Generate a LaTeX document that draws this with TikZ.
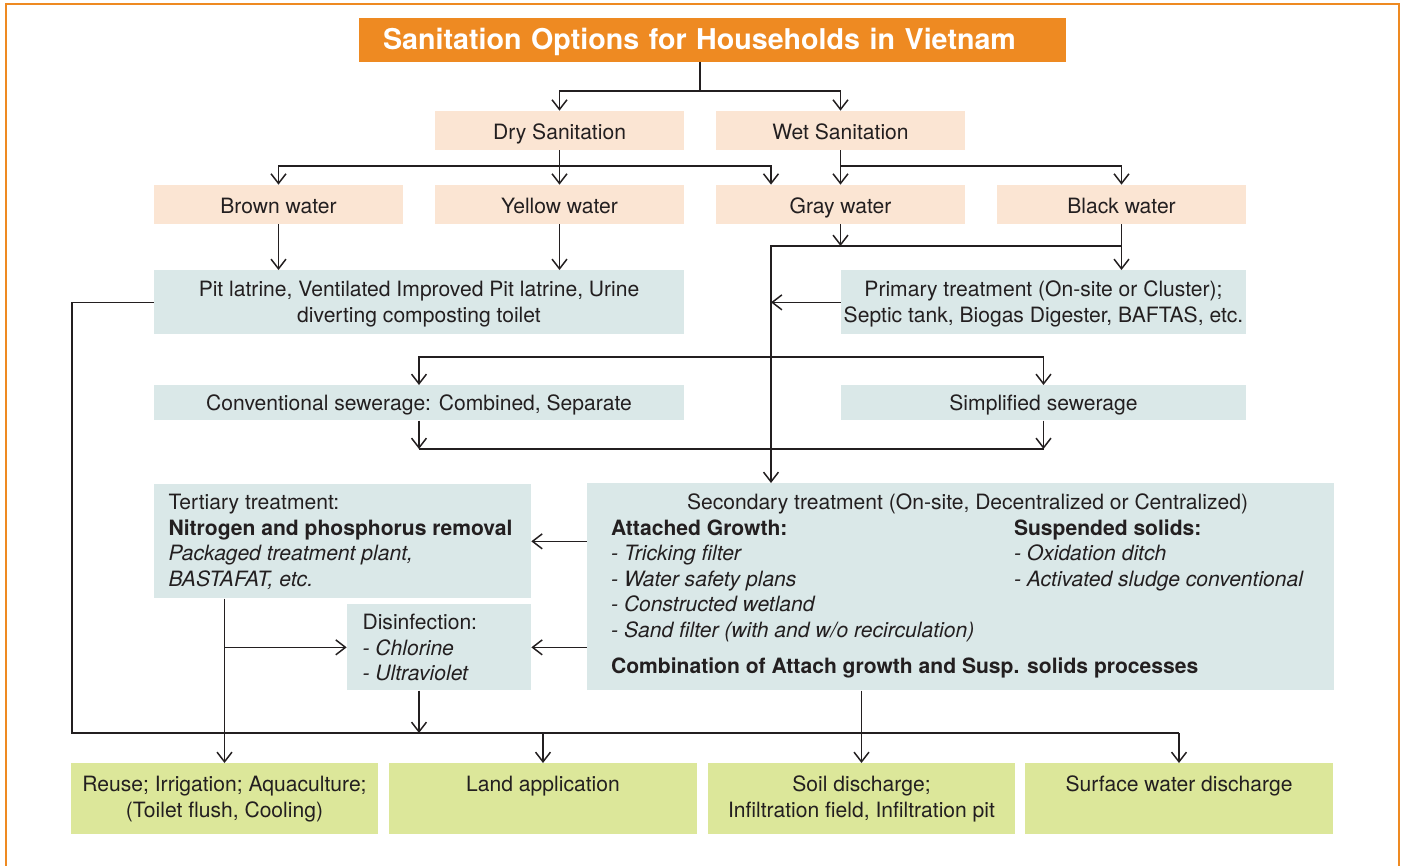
\documentclass[tikz,border=0pt]{standalone}
\usepackage{fontspec}
\setmainfont{TeX Gyre Heros}
\usetikzlibrary{arrows.meta}

\definecolor{vnorange}{HTML}{EE8A22}
\definecolor{vnpeach}{HTML}{FBE5D3}
\definecolor{vnblue}{HTML}{DAE8E8}
\definecolor{vngreen}{HTML}{DCE79A}
\definecolor{vnink}{HTML}{231F20}

\begin{document}
\begin{tikzpicture}[x=0.02cm, y=-0.02cm,
  every node/.style={inner sep=0pt, text=vnink, font=\fontsize{12}{14.6}\selectfont},
  link/.style={draw=vnink, line width=0.85pt},
  >={Straight Barb[length=5.5pt,width=8.5pt]},
  headbox/.style={fill=vnorange, text=white, inner xsep=0.48cm, text width=13.18cm,
    text height=0.62cm, text depth=0.25cm, font=\fontsize{16.3}{19}\selectfont\bfseries},
  kindbox/.style={fill=vnpeach, minimum width=4.98cm, text height=0.58cm, text depth=0.2cm},
  stepbox/.style={fill=vnblue, anchor=north},
  notebox/.style={fill=vnblue, anchor=north},
  outbox/.style={fill=vngreen, anchor=north, minimum width=6.15cm, text height=0.56cm, text depth=0.86cm}]
\useasboundingbox (0,0) rectangle (1405,865);
\draw[vnorange, line width=1.3pt] (6,4) rectangle (1399,900);

\node[headbox] (title) at (712.5,39.8) {Sanitation Options for Households in Vietnam};

\node[kindbox] (dry) at (559.5,130.5) {Dry Sanitation};
\node[kindbox] (wet) at (840.5,130.5) {Wet Sanitation};
\node[kindbox] (brown) at (278.5,204.5) {Brown water};
\node[kindbox] (yellow) at (559.5,204.5) {Yellow water};
\node[kindbox] (gray) at (840.5,204.5) {Gray water};
\node[kindbox] (black) at (1121.5,204.5) {Black water};

\node[stepbox, minimum width=10.6cm, text height=0.52cm, text depth=0.76cm] (pit) at (419,270)
  {\begin{tabular}[t]{@{}c@{}}Pit latrine, Ventilated Improved Pit latrine, Urine\\diverting composting toilet\end{tabular}};
\node[stepbox, minimum width=8.1cm, text height=0.52cm, text depth=0.76cm] (primary) at (1043.5,270)
  {\begin{tabular}[t]{@{}c@{}}Primary treatment (On-site or Cluster);\\Septic tank, Biogas Digester, BAFTAS, etc.\end{tabular}};
\node[stepbox, minimum width=10.6cm, text height=0.5cm, text depth=0.2cm] (conv) at (419,385)
  {Conventional sewerage: Combined, Separate};
\node[stepbox, minimum width=8.1cm, text height=0.5cm, text depth=0.2cm] (simple) at (1043.5,385)
  {Simplified sewerage};

\node[notebox, minimum width=7.54cm, text height=0.5cm, text depth=1.78cm] (tert) at (342.5,484)
  {\begin{tabular}[t]{@{}p{198pt}@{}}
   Tertiary treatment:\\
   \textbf{Nitrogen and phosphorus removal}\\
   \textit{Packaged treatment plant,}\\
   \textit{BASTAFAT, etc.}
   \end{tabular}};
\node[notebox, minimum width=3.68cm, text height=0.5cm, text depth=1.22cm] (disinf) at (439,604)
  {\begin{tabular}[t]{@{}p{87pt}@{}}
   Disinfection:\\
   \textit{- Chlorine}\\
   \textit{- Ultraviolet}
   \end{tabular}};
\node[notebox, minimum width=14.94cm, text height=0.52cm, text depth=3.62cm] (second) at (960.5,483)
  {\begin{tabular}[t]{@{}p{229.3pt}@{}p{168.4pt}@{}}
   \multicolumn{2}{@{}c@{}}{\hspace{8pt}Secondary treatment (On-site, Decentralized or Centralized)}\\
   \textbf{Attached Growth:} & \textbf{Suspended solids:}\\
   \textit{- Tricking filter} & \textit{- Oxidation ditch}\\
   \textit{- Water safety plans} & \textit{- Activated sludge conventional}\\
   \textit{- Constructed wetland} & \\
   \textit{- Sand filter (with and w/o recirculation)} & \\[6pt]
   \multicolumn{2}{@{}l@{}}{\textbf{Combination of Attach growth and Susp. solids processes}}
   \end{tabular}};

\node[outbox] (reuse) at (224.5,763)
  {\begin{tabular}[t]{@{}c@{}}Reuse; Irrigation; Aquaculture;\\(Toilet flush, Cooling)\end{tabular}};
\node[outbox] (land) at (543,763) {Land application};
\node[outbox] (soil) at (861.5,763)
  {\begin{tabular}[t]{@{}c@{}}Soil discharge;\\Infiltration field, Infiltration pit\end{tabular}};
\node[outbox] (surface) at (1179,763) {Surface water discharge};

\coordinate (split) at (700,91);
\coordinate (drysplit) at (559.5,166);
\coordinate (wetsplit) at (840.5,166);
\coordinate (pipe) at (771,246);
\coordinate (sewout) at (1043.5,449);
\coordinate (collectL) at (72,733);
\coordinate (collectR) at (1179,733);

\draw[link] (title.south -| split) -- (split);
\draw[link,->] (split) -| (dry.north);
\draw[link,->] (split) -| (wet.north);
\draw[link] (dry.south) -- (drysplit);
\draw[link,->] (drysplit) -| (brown.north);
\draw[link,->] (drysplit) -- (yellow.north);
\draw[link,->] (drysplit) -| (gray.north -| pipe);
\draw[link] (wet.south) -- (wetsplit);
\draw[link,->] (wetsplit) -- (gray.north);
\draw[link,->] (wetsplit) -| (black.north);

\draw[link,->] (gray.south) -- (gray.south |- pipe);
\draw[link,->] (black.south) -- (black.south |- primary.north);
\draw[link,->] (black.south |- pipe) -- (pipe) -- (pipe |- second.north);
\draw[link,->] (primary.west) -- (primary.west -| pipe);
\draw[link,->] (brown.south) -- (brown.south |- pit.north);
\draw[link,->] (yellow.south) -- (yellow.south |- pit.north);
\draw[link] (pit.west) -| (collectL) -- (collectR);

\draw[link,<->] (conv.north) -- ++(0,-28) -| (simple.north);
\draw[link,->] (conv.south) -- (conv.south |- sewout);
\draw[link,->] (simple.south) -- (sewout);
\draw[link] (conv.south |- sewout) -- (sewout);

\draw[link,->] (second.west |- tert.east) -- (tert.east);
\draw[link,->] (second.west |- disinf.east) -- (disinf.east);
\draw[link,->] (reuse.north |- tert.south) -- (reuse.north);
\draw[link,->] (reuse.north |- disinf.west) -- (disinf.west);
\draw[link,->] (conv.south |- disinf.south) -- (conv.south |- collectL);
\draw[link,->] (soil.north |- second.south) -- (soil.north);
\draw[link,->] (land.north |- collectL) -- (land.north);
\draw[link,->] (collectR) -- (surface.north);
\end{tikzpicture}
\end{document}
